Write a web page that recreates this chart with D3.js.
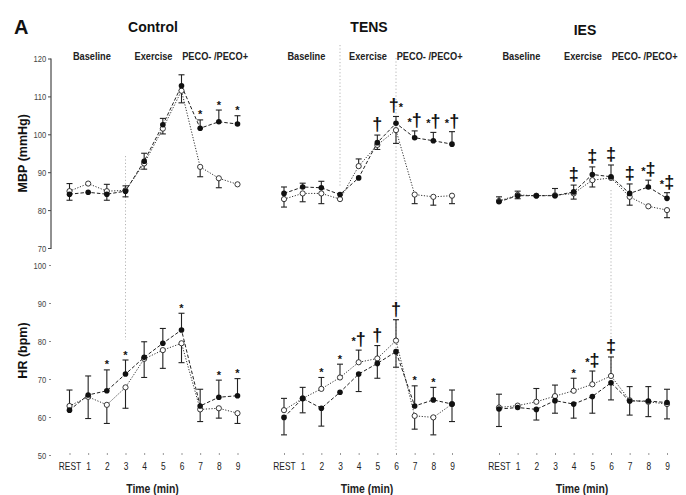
<!DOCTYPE html>
<html>
<head>
<meta charset="utf-8">
<script src="https://cdn.jsdelivr.net/npm/d3@7"></script>
<style>
  html, body { margin: 0; padding: 0; background: #fff; }
  svg { display: block; opacity: 0.995; }
  text { font-family: "Liberation Sans", Arial, sans-serif; }
</style>
</head>
<body>
<svg id="chart" width="686" height="495"></svg>
<script>
// ---------- DATA ----------
const categories = ["REST", "1", "2", "3", "4", "5", "6", "7", "8", "9"];
const groups = ["Control", "TENS", "IES"];
const phases = ["Baseline", "Exercise", "PECO- /PECO+"];
const mbpTicks = [70, 80, 90, 100, 110, 120];
const hrTicks = [50, 60, 70, 80, 90, 100];

// MBP (mmHg) — filled = PECO+, open = PECO-; signed SD (+ up, - down, 0 none)
const cMbpF = [84.2, 84.7, 84.2, 85.0, 92.9, 102.5, 112.8, 101.6, 103.3, 102.7];
const cMbpFErr = [-1.6, 0, -1.6, -1.5, 2.1, 1.7, 2.9, 2.2, 3.1, 2.2];
const cMbpO = [85.0, 87.0, 85.0, 85.2, 92.3, 101.5, 111.5, 91.4, 88.4, 86.8];
const cMbpOErr = [2.0, 0, 1.8, 1.2, -1.5, -1.4, -3.2, -2.6, -2.5, 0];
const cMbpMarks = ["", "", "", "", "", "", "", "*", "*", "*"];

const tMbpF = [84.4, 86.1, 85.9, 84.1, 88.5, 97.8, 102.9, 99.1, 98.3, 97.4];
const tMbpFErr = [1.7, 1.0, 1.7, 0, 0, 2.0, 1.8, 1.8, 2.2, 3.3];
const tMbpO = [82.9, 84.4, 84.4, 82.9, 91.6, 97.2, 101.1, 84.1, 83.5, 83.8];
const tMbpOErr = [-2.1, -2.2, -2.7, 0, 1.9, -1.2, -3.5, -2.4, -2.2, -2.1];
const tMbpMarks = ["", "", "", "", "", "†", "†*", "*†", "*†", "*†"];

const iMbpF = [82.2, 83.8, 83.8, 83.8, 84.8, 89.4, 88.8, 84.4, 86.1, 83.1];
const iMbpFErr = [1.3, 1.2, 0, 1.9, 1.8, 2.0, 3.1, 2.5, 1.8, 1.5];
const iMbpO = [82.4, 84.0, 83.8, 83.9, 84.4, 87.9, 88.5, 83.5, 81.0, 80.0];
const iMbpOErr = [0, -1.0, 0, 0, -1.5, -1.8, 0, -2.2, 0, -2.0];
const iMbpMarks = ["", "", "", "", "‡", "‡", "‡", "‡", "*‡", "*‡"];

// HR (bpm)
const cHrF = [61.8, 65.8, 66.9, 71.3, 75.7, 79.4, 82.9, 62.9, 65.2, 65.6];
const cHrFErr = [0, 5.0, 5.5, 3.7, 4.1, 3.9, 4.4, 4.4, 4.5, 4.5];
const cHrO = [62.9, 65.3, 63.2, 67.8, 75.3, 77.6, 79.4, 62.0, 62.3, 61.0];
const cHrOErr = [4.2, -5.7, -4.9, -5.5, -4.9, -4.8, -5.1, -3.2, -2.6, -2.7];
const cHrMarks = ["", "", "*", "*", "", "", "*", "", "*", "*"];

const tHrF = [59.9, 64.9, 62.3, 66.5, 71.3, 74.1, 77.2, 62.9, 64.5, 63.4];
const tHrFErr = [-4.6, 2.9, -4.7, 0, -4.6, -3.9, -4.1, 5.3, 3.3, -4.6];
const tHrO = [61.8, 64.9, 67.4, 70.4, 74.4, 75.4, 80.1, 60.3, 59.9, 63.4];
const tHrOErr = [3.1, -3.8, 3.0, 3.5, 3.2, 3.4, 5.5, -3.5, -4.6, 3.7];
const tHrMarks = ["", "", "*", "*", "*†", "†", "†", "*", "*", ""];

const iHrF = [62.1, 62.5, 62.0, 64.3, 63.4, 65.4, 69.0, 64.2, 64.2, 63.8];
const iHrFErr = [-4.6, 0, -2.8, -3.3, -3.7, -4.4, -4.5, -3.7, -4.1, -4.3];
const iHrO = [62.5, 63.0, 64.0, 65.5, 66.9, 68.6, 70.8, 64.4, 64.0, 63.4];
const iHrOErr = [3.5, 0, 3.5, 2.9, 3.3, 3.5, 5.0, 3.6, 4.0, 3.9];
const iHrMarks = ["", "", "", "", "*", "*‡", "‡", "", "", ""];

// ---------- LAYOUT ----------
const svg = d3.select("#chart");
const panelLeft = [69.5, 284, 499];
const panelWidth = 168;
const NARROW = 0.8;

const yMbp = d3.scaleLinear().domain([70, 120]).range([248, 58.5]);
const yHr = d3.scaleLinear().domain([50, 100]).range([455, 265]);

const xScales = panelLeft.map(l => d3.scalePoint().domain(categories).range([l, l + panelWidth]));

const panels = [
  { g: 0, y: yMbp, F: cMbpF, FE: cMbpFErr, O: cMbpO, OE: cMbpOErr, M: cMbpMarks },
  { g: 1, y: yMbp, F: tMbpF, FE: tMbpFErr, O: tMbpO, OE: tMbpOErr, M: tMbpMarks },
  { g: 2, y: yMbp, F: iMbpF, FE: iMbpFErr, O: iMbpO, OE: iMbpOErr, M: iMbpMarks },
  { g: 0, y: yHr, F: cHrF, FE: cHrFErr, O: cHrO, OE: cHrOErr, M: cHrMarks },
  { g: 1, y: yHr, F: tHrF, FE: tHrFErr, O: tHrO, OE: tHrOErr, M: tHrMarks },
  { g: 2, y: yHr, F: iHrF, FE: iHrFErr, O: iHrO, OE: iHrOErr, M: iHrMarks },
];

// reference dotted lines
const refLines = [
  { g: 0, c: "3", y1: 156, y2: 340 },
  { g: 1, c: "3", y1: 45, y2: 187 },
  { g: 1, c: "6", y1: 58, y2: 450 },
  { g: 2, c: "6", y1: 190, y2: 375 },
];
svg.append("g").selectAll("line").data(refLines).join("line")
  .attr("x1", d => xScales[d.g](d.c)).attr("x2", d => xScales[d.g](d.c))
  .attr("y1", d => d.y1).attr("y2", d => d.y2)
  .attr("stroke", "#b5b5b5").attr("stroke-width", 1).attr("stroke-dasharray", "1.2,2.2");

// helper: condensed text
function narrowText(sel, x, y, str, size, weight, anchor, sx) {
  return sel.append("text")
    .attr("transform", `translate(${x},${y}) scale(${sx || NARROW},1)`)
    .attr("text-anchor", anchor || "middle").attr("font-size", size)
    .attr("font-weight", weight || "normal").text(str);
}

// ---------- Titles ----------
svg.append("text").attr("x", 14).attr("y", 34).text("A")
  .attr("font-size", 20).attr("font-weight", "bold").attr("fill", "#111");

const titleX = [153, 369, 585];
const titleY = [32, 32, 35];
svg.append("g").selectAll("text").data(groups).join("text")
  .attr("x", (d, i) => titleX[i]).attr("y", (d, i) => titleY[i])
  .attr("text-anchor", "middle").attr("font-size", 14).attr("font-weight", "bold")
  .attr("fill", "#111").text(d => d);

// phase headers
const phaseCenterIdx = [1.2, 4.5, 7.8];
groups.forEach((g, gi) => {
  phases.forEach((p, pi) => {
    const x = panelLeft[gi] + phaseCenterIdx[pi] * panelWidth / 9;
    narrowText(svg, x, 60, p, 11, "bold", "middle", 0.84).attr("fill", "#222");
  });
});

// ---------- Axes ----------
const axMbp = svg.append("g").attr("transform", "translate(51,0)")
  .call(d3.axisLeft(yMbp).tickValues(mbpTicks).tickSize(3).tickPadding(3));
axMbp.select(".domain").attr("stroke", "#222").attr("d", "M0,58.5V249");
axMbp.selectAll("text").attr("font-size", 9.5).attr("fill", "#444")
  .attr("transform", `scale(${NARROW},1)`);
axMbp.selectAll(".tick line").attr("stroke", "#444");

const axHr = svg.append("g").attr("transform", "translate(51,0)")
  .call(d3.axisLeft(yHr).tickValues(hrTicks).tickSize(2).tickPadding(4));
axHr.select(".domain").remove();
axHr.selectAll("text").attr("font-size", 9.5).attr("fill", "#444")
  .attr("transform", `scale(${NARROW},1)`);
axHr.selectAll(".tick line").attr("stroke", "#888");

// y-axis titles
svg.append("text").attr("transform", `translate(27,${(yMbp(70) + yMbp(120)) / 2}) rotate(-90)`)
  .attr("text-anchor", "middle").attr("font-size", 12.5).attr("font-weight", "bold")
  .attr("fill", "#111").text("MBP (mmHg)");
svg.append("text").attr("transform", `translate(27,${yHr(77.5)}) rotate(-90)`)
  .attr("text-anchor", "middle").attr("font-size", 12.5).attr("font-weight", "bold")
  .attr("fill", "#111").text("HR (bpm)");

// x axes (bottom)
xScales.forEach((xs, gi) => {
  const ax = svg.append("g").attr("transform", "translate(0,453)")
    .call(d3.axisBottom(xs).tickSize(2).tickPadding(8));
  ax.select(".domain").remove();
  ax.selectAll(".tick line").attr("stroke", "#999");
  ax.selectAll("text").attr("font-size", 10.5).attr("fill", "#222")
    .attr("transform", `scale(${NARROW},1)`);
  narrowText(svg, (xs("REST") + xs("9")) / 2 - 1, 493, "Time (min)", 12, "bold", "middle", 0.87)
    .attr("fill", "#222");
});

// ---------- Series ----------
panels.forEach(p => {
  const xs = xScales[p.g];
  const gp = svg.append("g");
  const line = d3.line().x((d, i) => xs(categories[i])).y(d => p.y(d));

  gp.append("path").datum(p.O).attr("d", line).attr("fill", "none")
    .attr("stroke", "#333").attr("stroke-width", 1).attr("stroke-dasharray", "1.2,1.6");
  gp.append("path").datum(p.F).attr("d", line).attr("fill", "none")
    .attr("stroke", "#222").attr("stroke-width", 1).attr("stroke-dasharray", "3.5,2");

  // error bars
  const bars = [];
  p.F.forEach((v, i) => { if (p.FE[i] !== 0) bars.push({ c: categories[i], v, e: p.FE[i] }); });
  p.O.forEach((v, i) => { if (p.OE[i] !== 0) bars.push({ c: categories[i], v, e: p.OE[i] }); });
  const eb = gp.append("g").attr("stroke", "#222").attr("stroke-width", 1.1);
  eb.selectAll("line.v").data(bars).join("line").attr("class", "v")
    .attr("x1", d => xs(d.c)).attr("x2", d => xs(d.c))
    .attr("y1", d => p.y(d.v)).attr("y2", d => p.y(d.v + d.e));
  eb.selectAll("line.c").data(bars).join("line").attr("class", "c")
    .attr("x1", d => xs(d.c) - 3).attr("x2", d => xs(d.c) + 3)
    .attr("y1", d => p.y(d.v + d.e)).attr("y2", d => p.y(d.v + d.e));

  // points
  gp.selectAll("circle.o").data(p.O).join("circle").attr("class", "o")
    .attr("cx", (d, i) => xs(categories[i])).attr("cy", d => p.y(d)).attr("r", 2.6)
    .attr("fill", "#fff").attr("stroke", "#222").attr("stroke-width", 0.9);
  gp.selectAll("circle.f").data(p.F).join("circle").attr("class", "f")
    .attr("cx", (d, i) => xs(categories[i])).attr("cy", d => p.y(d)).attr("r", 2.8)
    .attr("fill", "#111");

  // significance marks
  p.M.forEach((m, i) => {
    if (!m) return;
    const tops = [p.F[i], p.O[i], p.F[i] + Math.max(0, p.FE[i]), p.O[i] + Math.max(0, p.OE[i])];
    const topY = p.y(d3.max(tops));
    const hasDagger = /[†‡]/.test(m);
    const t = gp.append("text").attr("x", xs(categories[i]))
      .attr("y", topY - (hasDagger ? 5 : 1.5)).attr("text-anchor", "middle")
      .attr("font-weight", "bold").attr("fill", "#111");
    m.split("").forEach(ch => {
      t.append("tspan").attr("font-size", ch === "*" ? 11 : 18).text(ch);
    });
  });
});
</script>
</body>
</html>
